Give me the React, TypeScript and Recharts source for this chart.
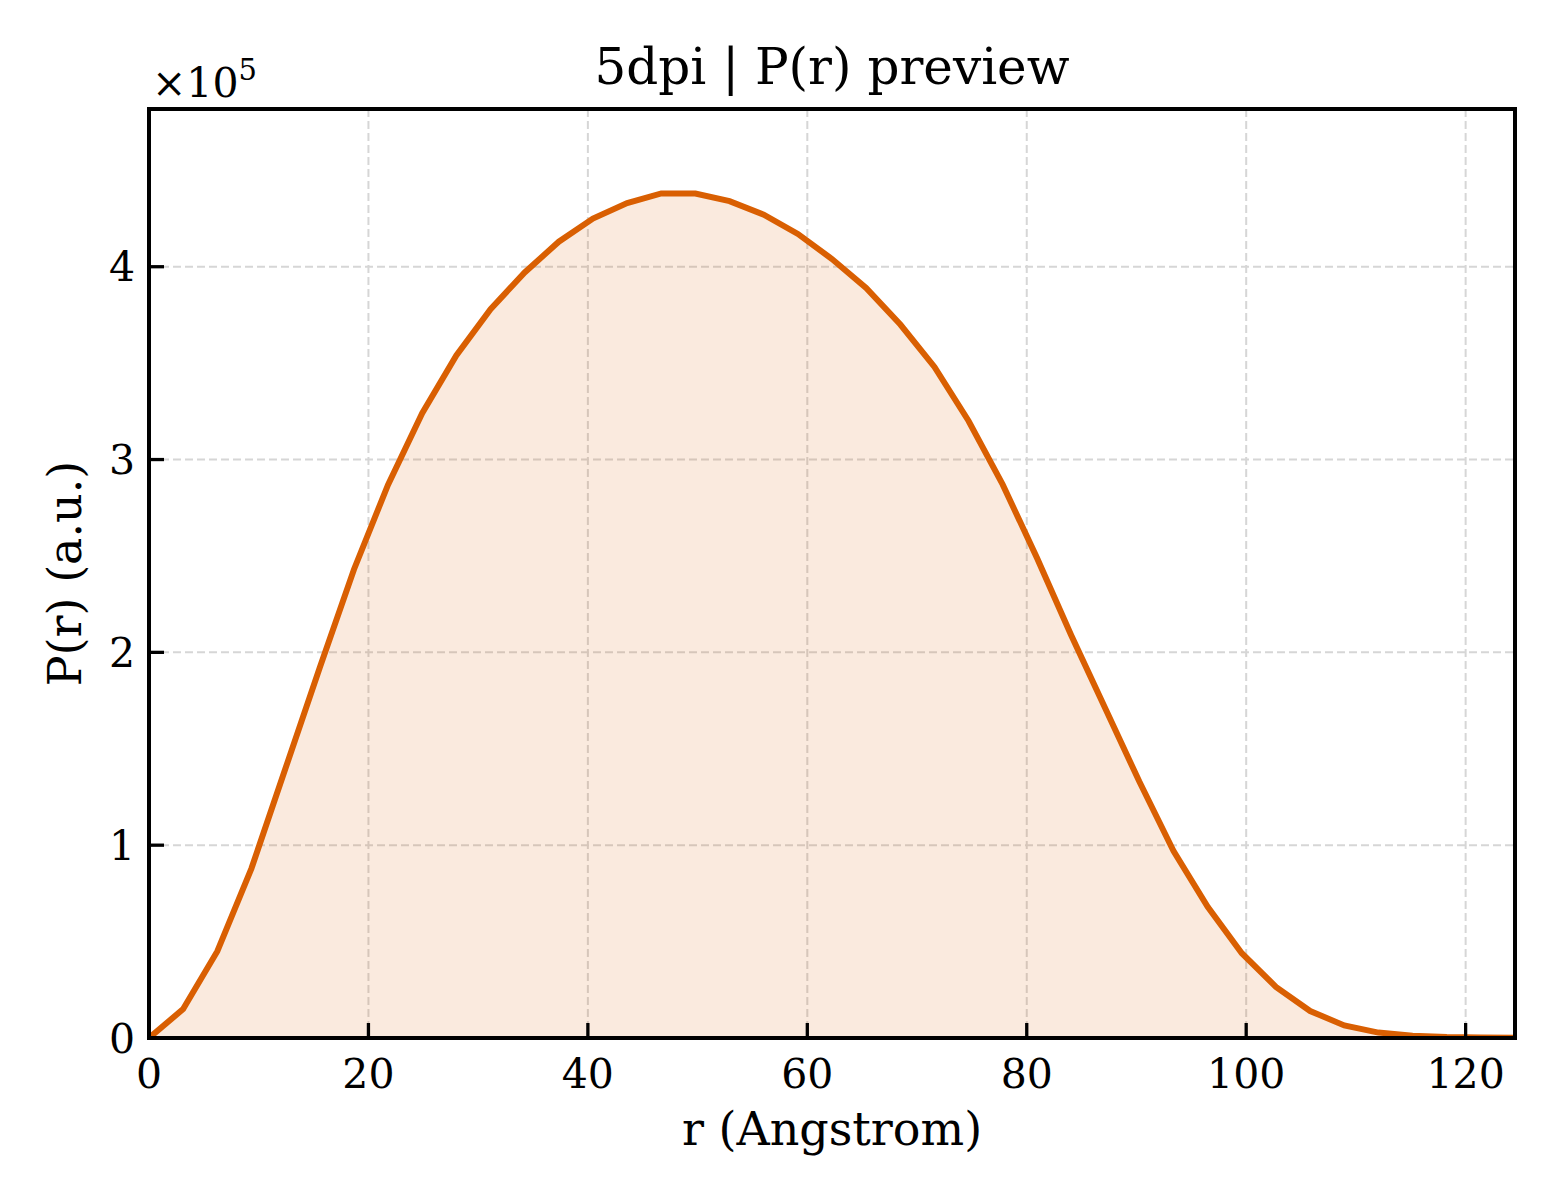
import { ComposedChart, Area, XAxis, YAxis, CartesianGrid, ReferenceArea } from 'recharts'

const rValues = [
  0, 3.11, 6.23, 9.34, 12.45, 15.56, 18.68, 21.79, 24.9, 28.01, 31.13, 34.24, 37.35, 40.46,
  43.58, 46.69, 49.8, 52.91, 56.03, 59.14, 62.25, 65.36, 68.48, 71.59, 74.7, 77.81, 80.93,
  84.04, 87.15, 90.26, 93.38, 96.49, 99.6, 102.71, 105.83, 108.94, 112.05, 115.16, 118.28,
  121.39, 124.5,
]
const prValues = [
  0, 15000, 45000, 88000, 140000, 192000, 243000, 287000, 324000, 354000, 378000, 397000,
  413000, 425000, 433000, 438000, 438000, 434000, 427000, 417000, 404000, 389000, 370000,
  348000, 320000, 287000, 249000, 209000, 171000, 133000, 97000, 68000, 44000, 26500, 14000,
  6500, 2800, 1200, 500, 200, 100,
]
const xTicks = [0, 20, 40, 60, 80, 100, 120]
const yTicks = [0, 100000, 200000, 300000, 400000]

const X_MAX = 124.5
const Y_MAX = 481800
const LINE = '#d95f02'
const FONT = '"DejaVu Serif", serif'

const data = rValues.map((r, i) => ({ r, pr: prValues[i] }))

function XTick({ x, y, payload }: any) {
  return (
    <g>
      <line x1={x} y1={y} x2={x} y2={y - 15} stroke="#000" strokeWidth={3.3} />
      <text x={x} y={y + 50} textAnchor="middle" fontFamily={FONT} fontSize={41} fill="#000">
        {payload.value}
      </text>
    </g>
  )
}

function YTick({ x, y, payload }: any) {
  return (
    <g>
      <line x1={x} y1={y} x2={x + 15} y2={y} stroke="#000" strokeWidth={3.3} />
      <text x={x - 14} y={y} dy="0.36em" textAnchor="end" fontFamily={FONT} fontSize={41} fill="#000">
        {payload.value / 100000}
      </text>
    </g>
  )
}

export default function App() {
  return (
    <div style={{ position: 'absolute', left: 0, top: 0, width: 1560, height: 1200, background: '#fff' }}>
      <ComposedChart
        width={1560}
        height={1200}
        data={data}
        margin={{ top: 109, right: 45, left: 0, bottom: 0 }}
      >
        <CartesianGrid stroke="#d6d6d6" strokeWidth={2} strokeDasharray="8 4" />
        <XAxis
          dataKey="r"
          type="number"
          domain={[0, X_MAX]}
          ticks={xTicks}
          allowDataOverflow
          height={162}
          axisLine={false}
          tickLine={false}
          tickSize={0}
          tickMargin={0}
          tick={<XTick />}
          label={({ viewBox }: any) => (
            <text
              x={viewBox.x + viewBox.width / 2}
              y={viewBox.y + 107}
              textAnchor="middle"
              fontFamily={FONT}
              fontSize={46}
              fill="#000"
            >
              r (Angstrom)
            </text>
          )}
        />
        <YAxis
          type="number"
          domain={[0, Y_MAX]}
          ticks={yTicks}
          allowDataOverflow
          width={149}
          axisLine={false}
          tickLine={false}
          tickSize={0}
          tickMargin={0}
          tick={<YTick />}
          label={({ viewBox }: any) => {
            const cy = viewBox.y + viewBox.height / 2
            return (
              <g>
                <text
                  x={81}
                  y={cy}
                  transform={`rotate(-90, 81, ${cy})`}
                  textAnchor="middle"
                  fontFamily={FONT}
                  fontSize={46}
                  fill="#000"
                >
                  P(r) (a.u.)
                </text>
                <text x={152} y={97} fontFamily={FONT} fontSize={41} fill="#000">
                  ×10
                  <tspan dy={-17} fontSize={29}>5</tspan>
                </text>
                <text
                  x={(149 + 1515) / 2}
                  y={84}
                  textAnchor="middle"
                  fontFamily={FONT}
                  fontSize={50}
                  fill="#000"
                >
                  5dpi | P(r) preview
                </text>
              </g>
            )
          }}
        />
        <Area
          type="linear"
          dataKey="pr"
          stroke={LINE}
          strokeWidth={6}
          fill={LINE}
          fillOpacity={0.13}
          dot={false}
          activeDot={false}
          isAnimationActive={false}
        />
        <ReferenceArea
          x1={0}
          x2={X_MAX}
          y1={0}
          y2={Y_MAX}
          fill="none"
          stroke="#000"
          strokeWidth={4}
          ifOverflow="visible"
        />
      </ComposedChart>
    </div>
  )
}
